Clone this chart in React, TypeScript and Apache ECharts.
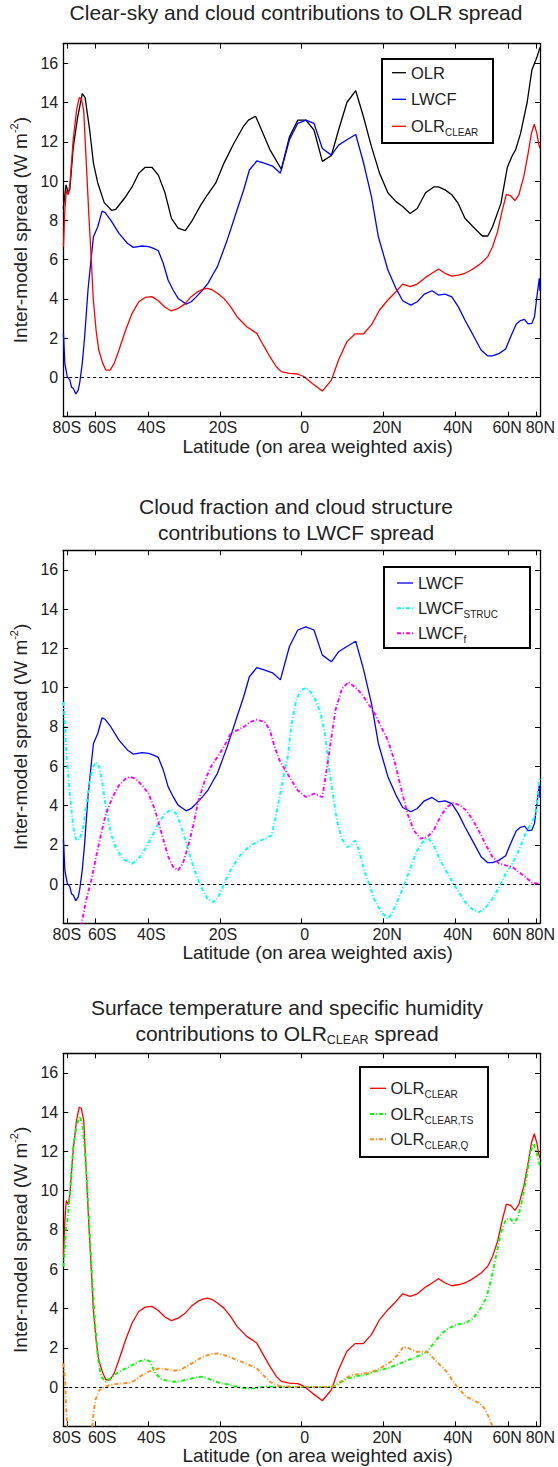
import React, { useEffect, useRef } from 'react';
import * as echarts from 'echarts';

// ---------- axis ticks ----------
const tickLats = [-80, -60, -40, -20, 0, 20, 40, 60, 80];
const tickLabels = ['80S', '60S', '40S', '20S', '0', '20N', '40N', '60N', '80N'];
const yTickValues = [0, 2, 4, 6, 8, 10, 12, 14, 16];

// ---------- data: [sin(latitude) (area weighted axis), inter-model spread W m-2] ----------
const olr = [
  [-0.9997, 8.6], [-0.988, 9.8], [-0.979, 9.4], [-0.972, 9.6], [-0.958, 11.7], [-0.94, 13.2], [-0.92, 14.45],
  [-0.908, 14.25], [-0.889, 12.6], [-0.873, 10.9], [-0.855, 9.9], [-0.828, 8.9], [-0.796, 8.5], [-0.78, 8.55],
  [-0.738, 9.2], [-0.711, 9.7], [-0.683, 10.4], [-0.656, 10.7], [-0.628, 10.7], [-0.601, 10.3], [-0.573, 9.4],
  [-0.546, 8.1], [-0.518, 7.6], [-0.488, 7.47], [-0.463, 7.9], [-0.422, 8.8], [-0.395, 9.3], [-0.36, 9.9],
  [-0.326, 10.9], [-0.285, 11.9], [-0.243, 12.8], [-0.223, 13.1], [-0.193, 13.3], [-0.168, 12.6], [-0.133, 11.6],
  [-0.085, 10.6], [-0.051, 12.25], [-0.016, 13.1], [0.018, 13.1], [0.052, 12.6], [0.087, 11.0], [0.125, 11.3],
  [0.155, 12.6], [0.19, 14.0], [0.227, 14.6], [0.259, 13.3], [0.293, 11.75], [0.327, 10.4], [0.362, 9.4],
  [0.396, 8.95], [0.424, 8.7], [0.455, 8.35], [0.485, 8.6], [0.52, 9.4], [0.554, 9.7], [0.574, 9.7], [0.602, 9.55],
  [0.63, 9.3], [0.657, 8.86], [0.685, 8.1], [0.719, 7.67], [0.758, 7.2], [0.781, 7.2], [0.801, 7.67], [0.836, 8.86],
  [0.863, 10.7], [0.884, 11.3], [0.898, 11.6], [0.918, 12.4], [0.946, 14.0], [0.966, 15.65], [0.987, 16.3], [0.9997, 16.8],
];

const lwcf = [
  [-0.999, 2.24], [-0.993, 0.7], [-0.983, 0.03], [-0.972, -0.14], [-0.965, -0.5], [-0.958, -0.56], [-0.947, -0.85],
  [-0.937, -0.65], [-0.931, -0.3], [-0.92, 0.71], [-0.91, 2.07], [-0.896, 4.45], [-0.882, 6.15], [-0.873, 7.16],
  [-0.855, 7.67], [-0.837, 8.47], [-0.824, 8.39], [-0.8, 8.0], [-0.766, 7.33], [-0.731, 6.83], [-0.706, 6.62],
  [-0.669, 6.69], [-0.642, 6.66], [-0.621, 6.57], [-0.601, 6.45], [-0.58, 5.8], [-0.56, 4.96], [-0.539, 4.45],
  [-0.518, 4.02], [-0.498, 3.85], [-0.484, 3.73], [-0.463, 3.85], [-0.442, 4.1], [-0.415, 4.45], [-0.392, 4.8],
  [-0.374, 5.2], [-0.353, 5.64], [-0.333, 6.3], [-0.312, 7.0], [-0.293, 7.7], [-0.271, 8.52], [-0.243, 9.54],
  [-0.219, 10.56], [-0.188, 11.02], [-0.154, 10.9], [-0.122, 10.76], [-0.089, 10.4], [-0.051, 12.1], [-0.016, 12.94],
  [0.018, 13.1], [0.052, 12.94], [0.087, 11.66], [0.125, 11.32], [0.155, 11.83], [0.19, 12.1], [0.227, 12.37],
  [0.259, 10.97], [0.293, 9.2], [0.322, 7.16], [0.362, 5.47], [0.396, 4.53], [0.424, 3.9], [0.458, 3.68],
  [0.485, 3.85], [0.515, 4.24], [0.547, 4.41], [0.574, 4.19], [0.602, 4.24], [0.63, 4.1], [0.657, 3.6], [0.685, 2.92],
  [0.719, 2.16], [0.753, 1.39], [0.781, 1.09], [0.801, 1.09], [0.829, 1.22], [0.856, 1.44], [0.877, 2.07],
  [0.9, 2.7], [0.918, 2.89], [0.935, 2.95], [0.95, 2.72], [0.966, 2.75], [0.977, 3.09], [0.987, 4.1], [0.997, 5.04],
  [0.9997, 4.4],
];

const olrClear = [
  [-0.999, 6.65], [-0.993, 8.5], [-0.987, 9.5], [-0.979, 9.3], [-0.972, 9.8], [-0.958, 12.1], [-0.944, 13.6],
  [-0.933, 14.25], [-0.924, 14.2], [-0.914, 13.6], [-0.903, 10.9], [-0.892, 8.18], [-0.882, 5.98], [-0.874, 4.0],
  [-0.862, 2.4], [-0.851, 1.39], [-0.834, 0.71], [-0.821, 0.37], [-0.803, 0.37], [-0.786, 0.71], [-0.766, 1.39],
  [-0.738, 2.41], [-0.711, 3.26], [-0.683, 3.85], [-0.656, 4.07], [-0.628, 4.11], [-0.601, 3.9], [-0.573, 3.57],
  [-0.546, 3.38], [-0.518, 3.51], [-0.491, 3.73], [-0.463, 4.11], [-0.436, 4.36], [-0.415, 4.48], [-0.395, 4.53],
  [-0.374, 4.45], [-0.353, 4.28], [-0.326, 4.02], [-0.298, 3.6], [-0.271, 3.09], [-0.23, 2.58], [-0.188, 2.24],
  [-0.161, 1.65], [-0.133, 1.05], [-0.106, 0.54], [-0.085, 0.29], [-0.051, 0.2], [-0.016, 0.17], [0.011, 0.03],
  [0.045, -0.31], [0.087, -0.7], [0.125, -0.14], [0.155, 0.88], [0.19, 1.82], [0.224, 2.21], [0.259, 2.21],
  [0.293, 2.67], [0.327, 3.43], [0.362, 3.94], [0.396, 4.36], [0.424, 4.75], [0.455, 4.62], [0.485, 4.75],
  [0.52, 5.09], [0.547, 5.3], [0.574, 5.52], [0.602, 5.3], [0.63, 5.16], [0.657, 5.21], [0.685, 5.3], [0.712, 5.47],
  [0.733, 5.64], [0.753, 5.81], [0.781, 6.15], [0.801, 6.65], [0.822, 7.42], [0.842, 8.52], [0.859, 9.32],
  [0.877, 9.25], [0.895, 9.0], [0.911, 9.29], [0.932, 10.22], [0.95, 11.4], [0.964, 12.43], [0.976, 12.9],
  [0.987, 12.43], [0.994, 11.92], [0.9997, 11.66],
];

const lwcfStruc = [
  [-0.999, 9.27], [-0.992, 8.0], [-0.986, 6.47], [-0.972, 4.6], [-0.958, 2.9], [-0.945, 2.22], [-0.931, 2.31],
  [-0.918, 2.73], [-0.904, 3.92], [-0.89, 5.1], [-0.876, 5.96], [-0.863, 6.2], [-0.849, 5.96], [-0.835, 5.1],
  [-0.821, 3.92], [-0.8, 2.56], [-0.78, 1.88], [-0.752, 1.29], [-0.711, 1.04], [-0.684, 1.29], [-0.656, 1.8],
  [-0.629, 2.39], [-0.601, 3.07], [-0.574, 3.58], [-0.546, 3.79], [-0.525, 3.58], [-0.504, 2.9], [-0.477, 1.8],
  [-0.449, 0.7], [-0.422, -0.15], [-0.395, -0.75], [-0.37, -0.92], [-0.346, -0.58], [-0.319, 0.19], [-0.291, 0.87],
  [-0.257, 1.46], [-0.223, 1.88], [-0.188, 2.14], [-0.154, 2.31], [-0.126, 2.48], [-0.106, 3.58], [-0.085, 4.94],
  [-0.058, 6.47], [-0.044, 8.0], [-0.023, 9.36], [-0.003, 9.86], [0.018, 10.0], [0.038, 9.78], [0.059, 9.36],
  [0.08, 8.68], [0.098, 7.66], [0.114, 5.96], [0.131, 4.6], [0.148, 3.24], [0.169, 2.31], [0.19, 1.88], [0.208, 1.97],
  [0.224, 2.22], [0.241, 1.71], [0.258, 0.87], [0.282, 0.02], [0.307, -0.83], [0.334, -1.43], [0.362, -1.77],
  [0.382, -1.43], [0.403, -0.83], [0.43, -0.07], [0.458, 0.87], [0.485, 1.71], [0.513, 2.22], [0.533, 2.31],
  [0.554, 1.97], [0.581, 1.21], [0.609, 0.61], [0.636, 0.02], [0.664, -0.49], [0.691, -1.0], [0.719, -1.31],
  [0.746, -1.43], [0.774, -1.17], [0.801, -0.75], [0.829, -0.15], [0.856, 0.53], [0.884, 1.04], [0.911, 1.71],
  [0.939, 2.56], [0.966, 3.16], [0.983, 3.58], [0.994, 4.94], [0.9997, 5.45],
];

const lwcfF = [
  [-0.937, -2.6], [-0.92, -1.85], [-0.904, -0.83], [-0.882, 0.19], [-0.862, 1.38], [-0.841, 2.56], [-0.821, 3.58],
  [-0.793, 4.43], [-0.766, 5.03], [-0.738, 5.37], [-0.718, 5.45], [-0.697, 5.37], [-0.669, 5.03], [-0.642, 4.6],
  [-0.614, 3.75], [-0.587, 2.56], [-0.559, 1.38], [-0.539, 0.87], [-0.518, 0.7], [-0.498, 1.04], [-0.477, 1.88],
  [-0.456, 2.9], [-0.436, 4.09], [-0.408, 5.2], [-0.381, 5.96], [-0.353, 6.47], [-0.326, 6.98], [-0.298, 7.66],
  [-0.271, 7.83], [-0.243, 8.0], [-0.216, 8.25], [-0.188, 8.37], [-0.154, 8.25], [-0.133, 7.83], [-0.113, 6.98],
  [-0.092, 6.3], [-0.078, 6.0], [-0.051, 5.45], [-0.016, 4.77], [0.018, 4.43], [0.052, 4.6], [0.087, 4.43],
  [0.107, 5.96], [0.121, 7.15], [0.142, 8.85], [0.169, 9.95], [0.197, 10.29], [0.224, 10.03], [0.252, 9.69],
  [0.279, 9.19], [0.307, 8.68], [0.334, 8.0], [0.362, 7.32], [0.389, 6.3], [0.416, 4.94], [0.444, 3.58],
  [0.471, 2.73], [0.499, 2.31], [0.526, 2.39], [0.554, 2.73], [0.581, 3.41], [0.609, 3.92], [0.636, 4.13],
  [0.664, 4.01], [0.691, 3.75], [0.719, 3.24], [0.746, 2.65], [0.774, 1.97], [0.801, 1.38], [0.829, 1.04],
  [0.856, 0.95], [0.884, 0.87], [0.911, 0.61], [0.939, 0.36], [0.966, 0.07], [0.994, 0.02], [0.9997, 0.02],
];

const olrClearTs = [
  [-0.999, 6.13], [-0.992, 7.15], [-0.988, 8.17], [-0.983, 8.42], [-0.979, 8.9], [-0.972, 9.8], [-0.965, 11.0],
  [-0.958, 12.2], [-0.944, 13.3], [-0.931, 13.8], [-0.92, 13.4], [-0.91, 12.2], [-0.903, 10.9], [-0.896, 9.5],
  [-0.882, 6.3], [-0.869, 3.75], [-0.855, 1.54], [-0.841, 0.53], [-0.821, 0.27], [-0.793, 0.53], [-0.766, 0.78],
  [-0.738, 0.95], [-0.711, 1.12], [-0.684, 1.29], [-0.656, 1.41], [-0.635, 1.29], [-0.614, 0.7], [-0.587, 0.39],
  [-0.559, 0.31], [-0.532, 0.27], [-0.504, 0.31], [-0.477, 0.39], [-0.449, 0.48], [-0.422, 0.53], [-0.395, 0.44],
  [-0.367, 0.31], [-0.34, 0.19], [-0.312, 0.14], [-0.285, 0.05], [-0.257, -0.02], [-0.23, -0.08], [-0.202, -0.07],
  [-0.175, -0.02], [-0.147, 0.02], [-0.078, 0.02], [0.0, 0.0], [0.1, 0.0], [0.128, 0.02], [0.148, 0.1],
  [0.169, 0.27], [0.197, 0.44], [0.231, 0.56], [0.265, 0.61], [0.293, 0.73], [0.327, 0.87], [0.362, 0.95],
  [0.396, 1.12], [0.43, 1.29], [0.465, 1.46], [0.499, 1.63], [0.526, 1.8], [0.554, 2.22], [0.581, 2.65],
  [0.609, 2.94], [0.636, 3.11], [0.664, 3.21], [0.691, 3.28], [0.719, 3.5], [0.746, 3.92], [0.774, 4.52],
  [0.795, 5.45], [0.815, 6.64], [0.836, 7.83], [0.856, 8.51], [0.874, 8.59], [0.891, 8.34], [0.909, 8.68],
  [0.925, 9.52], [0.939, 10.37], [0.946, 10.9], [0.959, 11.9], [0.973, 12.41], [0.987, 11.9], [0.9997, 11.22],
];

const olrClearQ = [
  [-0.999, 1.2], [-0.992, 0.36], [-0.988, -1.0], [-0.983, -2.02], [-0.977, -3.5], [-0.882, -3.5], [-0.878, -2.02],
  [-0.873, -1.34], [-0.865, -0.66], [-0.848, -0.15], [-0.828, -0.02], [-0.807, 0.1], [-0.78, 0.15], [-0.752, 0.19],
  [-0.718, 0.22], [-0.697, 0.36], [-0.669, 0.61], [-0.642, 0.78], [-0.614, 0.9], [-0.594, 0.95], [-0.566, 0.9],
  [-0.539, 0.83], [-0.511, 0.87], [-0.484, 1.04], [-0.449, 1.29], [-0.415, 1.54], [-0.381, 1.68], [-0.353, 1.71],
  [-0.326, 1.63], [-0.298, 1.51], [-0.271, 1.38], [-0.243, 1.24], [-0.216, 1.1], [-0.188, 0.95], [-0.161, 0.61],
  [-0.133, 0.27], [-0.106, 0.1], [-0.078, 0.02], [0.0, 0.0], [0.1, 0.0], [0.128, 0.03], [0.148, 0.14],
  [0.183, 0.44], [0.21, 0.61], [0.238, 0.66], [0.272, 0.7], [0.307, 0.83], [0.341, 1.04], [0.375, 1.29],
  [0.403, 1.63], [0.427, 2.05], [0.451, 1.97], [0.478, 1.8], [0.506, 1.8], [0.526, 1.8], [0.554, 1.46],
  [0.581, 1.12], [0.609, 0.78], [0.636, 0.27], [0.664, -0.15], [0.691, -0.49], [0.719, -0.66], [0.746, -0.83],
  [0.767, -1.09], [0.788, -1.6], [0.801, -2.02], [0.815, -2.8],
];

// ---------- styling ----------
const FONT = '"Liberation Sans", Arial, Helvetica, sans-serif';
const TEXT = '#222';
const GRID_TOPS = [43.6, 550.3, 1053.3];
const GRID_H = 373;
const DASHDOT = [4, 2, 1, 2];

const STYLES: Record<string, { color: string; dash: boolean; label: string }> = {
  OLR: { color: '#000000', dash: false, label: '{m|OLR}' },
  LWCF: { color: '#0000ff', dash: false, label: '{m|LWCF}' },
  OLR_CLEAR: { color: '#ff0000', dash: false, label: '{m|OLR}{s|CLEAR}' },
  LWCF_STRUC: { color: '#00ffff', dash: true, label: '{m|LWCF}{s|STRUC}' },
  LWCF_f: { color: '#ff00ff', dash: true, label: '{m|LWCF}{s|f}' },
  'OLR_CLEAR,TS': { color: '#00ff00', dash: true, label: '{m|OLR}{s|CLEAR,TS}' },
  'OLR_CLEAR,Q': { color: '#ff8c1a', dash: true, label: '{m|OLR}{s|CLEAR,Q}' },
};

const xTickValues = tickLats.map((d) => Math.sin((d * Math.PI) / 180));
// small label nudges (as in the original figure) – rich style per label
const labelShift = ['k0', 'k7', 'k3', 'k3', 'k3', 'k4', 'k3', 'km1', 'k4'];
const latLabel = (v: number) => {
  let best = 0;
  let bd = Infinity;
  xTickValues.forEach((t, i) => {
    const d = Math.abs(t - v);
    if (d < bd) {
      bd = d;
      best = i;
    }
  });
  return `{${labelShift[best]}|${tickLabels[best]}}`;
};
const lab = { fontSize: 16, color: TEXT, fontFamily: FONT };
const xLabelRich = {
  k0: { ...lab },
  k3: { ...lab, padding: [0, 0, 0, 6] },
  k4: { ...lab, padding: [0, 0, 0, 8] },
  k7: { ...lab, padding: [0, 0, 0, 14] },
  km1: { ...lab, padding: [0, 2, 0, 0] },
};

const legendRich = {
  m: { fontSize: 16.5, lineHeight: 22, fill: TEXT, color: TEXT, fontFamily: FONT },
  s: { fontSize: 10, lineHeight: 8, verticalAlign: 'bottom', fill: TEXT, color: TEXT, fontFamily: FONT },
};

const LEGENDS = [
  { names: ['OLR', 'LWCF', 'OLR_CLEAR'], box: [382, 59, 111, 84], line: [392, 406], textX: 411, rows: [72.7, 99.3, 126.3] },
  { names: ['LWCF', 'LWCF_STRUC', 'LWCF_f'], box: [384, 567, 146, 81], line: [397, 413], textX: 418, rows: [583, 608.3, 633.3] },
  { names: ['OLR_CLEAR', 'OLR_CLEAR,TS', 'OLR_CLEAR,Q'], box: [360, 1067, 128, 90], line: [370, 386], textX: 390.5, rows: [1088.3, 1114, 1139.3] },
];

function buildOption() {
  const axisLine = { show: true, onZero: false, lineStyle: { color: '#000', width: 1.3 } };
  const tickStyle = { color: '#000', width: 1 };
  const grid: any[] = [];
  const xAxis: any[] = [];
  const yAxis: any[] = [];
  GRID_TOPS.forEach((top, i) => {
    grid.push({ left: 57, top, width: 485, height: GRID_H });
    xAxis.push({
      type: 'value', gridIndex: i, min: -1, max: 1, position: 'bottom',
      axisLine,
      axisTick: { show: true, inside: true, length: 5, customValues: xTickValues, lineStyle: tickStyle },
      axisLabel: {
        show: true, customValues: xTickValues, formatter: latLabel, showMinLabel: true, showMaxLabel: true,
        fontSize: 16, color: TEXT, fontFamily: FONT, margin: 3, rich: xLabelRich,
      },
      splitLine: { show: false },
      name: 'Latitude (on area weighted axis)', nameLocation: 'middle', nameGap: 15,
      nameTextStyle: { fontSize: 19, color: TEXT, fontFamily: FONT, padding: [0, 0, 0, 32] },
    });
    xAxis.push({
      type: 'value', gridIndex: i, min: -1, max: 1, position: 'top',
      axisLine,
      axisTick: { show: true, inside: true, length: 5, customValues: xTickValues, lineStyle: tickStyle },
      axisLabel: { show: false },
      splitLine: { show: false },
    });
    yAxis.push({
      type: 'value', gridIndex: i, min: -2, max: 17, position: 'left',
      axisLine,
      axisTick: { show: true, inside: true, length: 5, customValues: yTickValues, lineStyle: tickStyle },
      axisLabel: { show: true, customValues: yTickValues, fontSize: 16, color: TEXT, fontFamily: FONT, margin: 5 },
      splitLine: { show: false },
      name: '{a|Inter-model spread (W m}{b|-2}{a|)}', nameLocation: 'middle', nameRotate: 90, nameGap: 26,
      nameTextStyle: {
        rich: {
          a: { fontSize: 19, lineHeight: 24, color: TEXT, fontFamily: FONT },
          b: { fontSize: 11, lineHeight: 12, verticalAlign: 'top', color: TEXT, fontFamily: FONT },
        },
      },
    });
    yAxis.push({
      type: 'value', gridIndex: i, min: -2, max: 17, position: 'right',
      axisLine,
      axisTick: { show: true, inside: true, length: 5, customValues: yTickValues, lineStyle: tickStyle },
      axisLabel: { show: false },
      splitLine: { show: false },
    });
  });

  const zeroLine = {
    silent: true, symbol: ['none', 'none'], label: { show: false },
    lineStyle: { color: '#000', type: [3, 3], width: 1 },
    emphasis: { disabled: true },
    data: [{ yAxis: 0 }],
  };

  const line = (name: string, data: number[][], panel: number, withZero = false) => {
    const st = STYLES[name];
    return {
      type: 'line', name, data, xAxisIndex: panel * 2, yAxisIndex: panel * 2,
      showSymbol: false, symbol: 'none', clip: true, silent: true,
      lineStyle: { color: st.color, width: st.dash ? 1.9 : 1.3, type: st.dash ? DASHDOT : 'solid' },
      itemStyle: { color: st.color },
      emphasis: { disabled: true },
      ...(withZero ? { markLine: zeroLine } : {}),
    };
  };

  const series = [
    line('OLR', olr, 0, true),
    line('LWCF', lwcf, 0),
    line('OLR_CLEAR', olrClear, 0),
    line('LWCF', lwcf, 1, true),
    line('LWCF_STRUC', lwcfStruc, 1),
    line('LWCF_f', lwcfF, 1),
    line('OLR_CLEAR', olrClear, 2, true),
    line('OLR_CLEAR,TS', olrClearTs, 2),
    line('OLR_CLEAR,Q', olrClearQ, 2),
  ];

  // legend boxes (drawn as graphic elements)
  const graphic: any[] = [];
  LEGENDS.forEach((lg) => {
    const [bx, by, bw, bh] = lg.box;
    graphic.push({
      type: 'rect', z: 100, silent: true,
      shape: { x: bx, y: by, width: bw, height: bh },
      style: { fill: '#fff', stroke: '#000', lineWidth: 2 },
    });
    lg.names.forEach((name, k) => {
      const st = STYLES[name];
      const y = lg.rows[k];
      graphic.push({
        type: 'line', z: 101, silent: true,
        shape: { x1: lg.line[0], y1: y, x2: lg.line[1], y2: y },
        style: { stroke: st.color, lineWidth: st.dash ? 1.9 : 1.3, lineDash: st.dash ? DASHDOT : null },
      });
      graphic.push({
        type: 'text', z: 101, silent: true, x: lg.textX, y,
        style: {
          text: st.label, rich: legendRich, fill: TEXT, fontSize: 16.5, fontFamily: FONT,
          align: 'left', verticalAlign: 'middle', textAlign: 'left', textVerticalAlign: 'middle',
        },
      });
    });
  });

  const titleStyle = { fontSize: 21, fontWeight: 'normal', color: TEXT, fontFamily: FONT };
  const title = [
    { text: 'Clear-sky and cloud contributions to OLR spread', left: 296, top: 0, textAlign: 'center', padding: 0,
      textStyle: { ...titleStyle, lineHeight: 24 } },
    { text: 'Cloud fraction and cloud structure\ncontributions to LWCF spread', left: 296, top: 493, textAlign: 'center', padding: 0,
      textStyle: { ...titleStyle, lineHeight: 26.5 } },
    { text: '{m|Surface temperature and specific humidity}\n{m|contributions to OLR}{s|CLEAR}{m| spread}', left: 287, top: 994,
      textAlign: 'center', padding: 0,
      textStyle: {
        ...titleStyle, lineHeight: 26,
        rich: {
          m: { fontSize: 21, lineHeight: 26, color: TEXT, fontFamily: FONT },
          s: { fontSize: 12.5, lineHeight: 6, verticalAlign: 'bottom', color: TEXT, fontFamily: FONT },
        },
      } },
  ];

  return {
    animation: false,
    backgroundColor: '#fff',
    textStyle: { fontFamily: FONT },
    title, grid, xAxis, yAxis, series, graphic,
  };
}

export default function App() {
  const ref = useRef<HTMLDivElement>(null);
  useEffect(() => {
    if (!ref.current) return;
    const chart = echarts.init(ref.current, null, { renderer: 'svg' });
    chart.setOption(buildOption() as any);
    return () => chart.dispose();
  }, []);
  return (
    <div
      ref={ref}
      style={{ position: 'absolute', left: 0, top: 0, width: 558, height: 1467, background: '#fff' }}
    />
  );
}
